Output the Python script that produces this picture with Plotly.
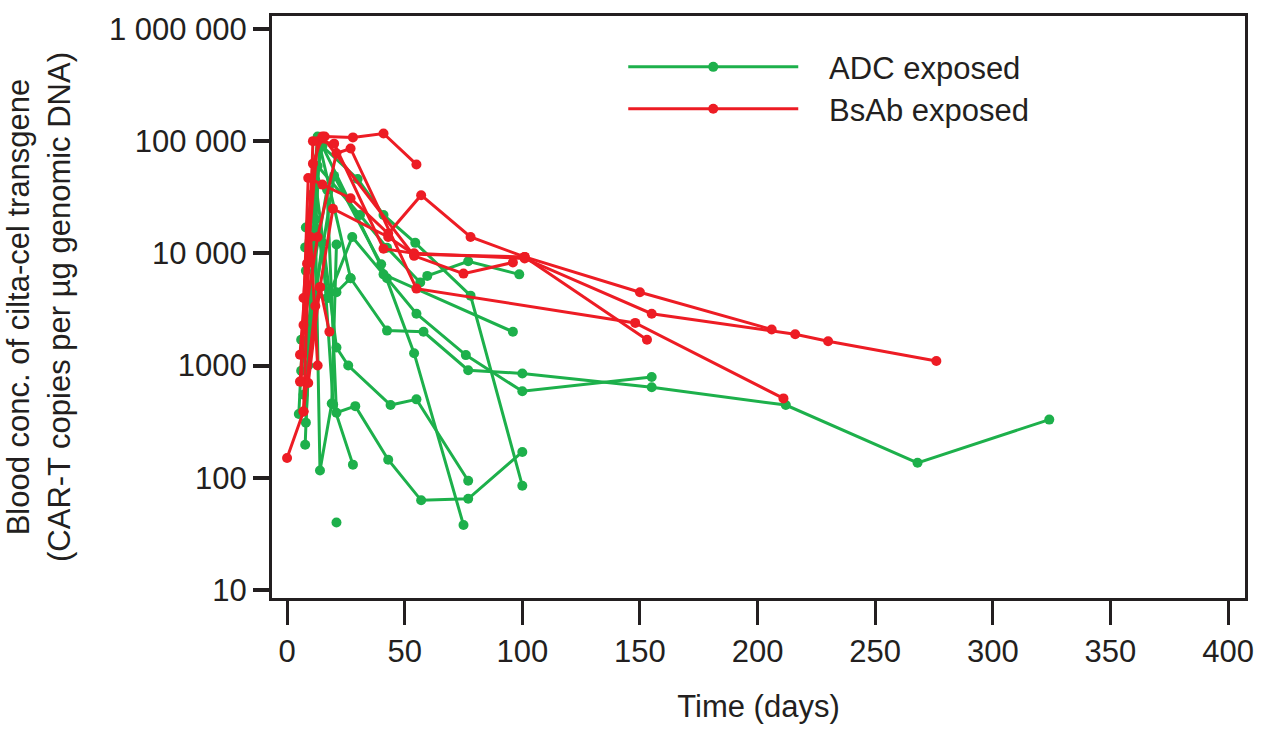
import plotly.graph_objects as go

# ---- data (days, copies per µg genomic DNA) ----
adc_days = [
    [5, 8, 13, 27, 42.5, 58, 77, 100, 155, 212, 268, 324],
    [8, 14, 42.5, 55, 76, 100, 155],
    [7.7, 12, 21, 26, 44, 55, 77],
    [6, 17, 21, 29, 43, 57, 77, 100],
    [8, 20, 40, 54, 75],
    [8, 15, 30, 41, 54.5, 78, 100],
    [7.7, 13, 31, 42.5, 56.6, 59.6, 77, 98.7],
    [8, 11, 17.4, 27.7, 41, 96],
    [9, 12, 14, 19, 21],
    [7, 15, 19.6, 28],
    [21],
    [6, 10.6, 21, 27],
]
adc_vals = [
    [370, 7000, 110000, 6000, 2050, 2000, 910, 850, 640, 445, 136, 330],
    [310, 100000, 6000, 2900, 1240, 590, 790],
    [197, 45000, 1450, 1000, 445, 500, 94],
    [1700, 37000, 380, 435, 145, 63, 65, 170],
    [1300, 49000, 8000, 1290, 38],
    [17000, 90000, 46000, 22000, 12400, 4200, 85],
    [11300, 60000, 22000, 11200, 5500, 6300, 8500, 6500],
    [3900, 34000, 4000, 14000, 6500, 2000],
    [1000, 20000, 116, 460, 12000],
    [550, 12500, 450, 131],
    [40],
    [900, 3900, 4500, 6000],
]
bsab_days = [
    [0, 7, 11, 16, 28, 41, 55],
    [6, 9, 15, 27, 43, 57, 78, 101, 150, 206],
    [5.5, 8.5, 13, 20, 41, 54, 101, 155, 216, 230, 276],
    [7, 13, 21, 27, 55, 148, 211],
    [7, 11, 15, 54, 75, 96],
    [9, 14, 19.5, 43, 54, 101, 153],
    [7, 12, 14, 18],
    [5.5, 10, 13],
]
bsab_vals = [
    [150, 390, 100000, 110000, 108000, 117000, 62000],
    [720, 47000, 41000, 31000, 15000, 33000, 14000, 9300, 4500, 2100],
    [1250, 8100, 100000, 95000, 11000, 10000, 9000, 2900, 1900, 1650, 1100],
    [2300, 14000, 78000, 86000, 4850, 2400, 510],
    [4000, 63000, 110000, 9500, 6600, 8300],
    [700, 5000, 25000, 14000, 9800, 9300, 1700],
    [390, 3400, 5000, 2000],
    [720, 14000, 1000],
]
y_tickvals = [10, 100, 1000, 10000, 100000, 1000000]
y_ticktext = ["10", "100", "1000", "10 000", "100 000", "1 000 000"]
x_tickvals = [0, 50, 100, 150, 200, 250, 300, 350, 400]

GREEN = "#1DB04B"
RED = "#ED1C24"
INK = "#231F20"
FONT = "Liberation Sans, Arial, sans-serif"
FS = 31
PAD = "\u00a0\u00a0\u00a0"

fig = go.Figure()

for i, (d, v) in enumerate(zip(adc_days, adc_vals)):
    fig.add_trace(go.Scatter(
        x=d, y=v, mode="lines+markers", name=PAD + "ADC exposed",
        line=dict(color=GREEN, width=3), marker=dict(color=GREEN, size=10),
        showlegend=(i == 0), legend="legend", legendgroup="adc"))

for i, (d, v) in enumerate(zip(bsab_days, bsab_vals)):
    fig.add_trace(go.Scatter(
        x=d, y=v, mode="lines+markers", name=PAD + "BsAb exposed",
        line=dict(color=RED, width=3), marker=dict(color=RED, size=10),
        showlegend=(i == 0), legend="legend2", legendgroup="bsab"))

axis_common = dict(
    showline=True, linecolor=INK, linewidth=3, mirror=True,
    showgrid=False, zeroline=False, ticks="outside", tickcolor=INK,
    tickfont=dict(family=FONT, size=FS, color=INK),
)

fig.update_xaxes(
    range=[-6.4, 407.2], tickvals=x_tickvals, ticklen=24, tickwidth=3,
    title=dict(text="Time (days)", font=dict(family=FONT, size=FS, color=INK), standoff=28),
    **axis_common)
fig.update_yaxes(
    type="log", range=[0.929, 6.115], tickvals=y_tickvals, ticktext=y_ticktext,
    ticklen=16, tickwidth=4,
    title=dict(text="Blood conc. of cilta-cel transgene<br>(CAR-T copies per µg genomic DNA)",
               font=dict(family=FONT, size=FS, color=INK), standoff=30),
    **axis_common)

legend_common = dict(
    font=dict(family=FONT, size=FS, color=INK), bgcolor="rgba(0,0,0,0)",
    itemwidth=170, xanchor="left", yanchor="middle", borderwidth=0,
)
fig.update_layout(
    width=1267, height=731,
    margin=dict(l=272, r=22, t=13, b=131),
    paper_bgcolor="white", plot_bgcolor="white",
    legend=dict(x=0.361, y=0.912, **legend_common),
    legend2=dict(x=0.361, y=0.840, **legend_common),
)

fig.write_html("out.html")
